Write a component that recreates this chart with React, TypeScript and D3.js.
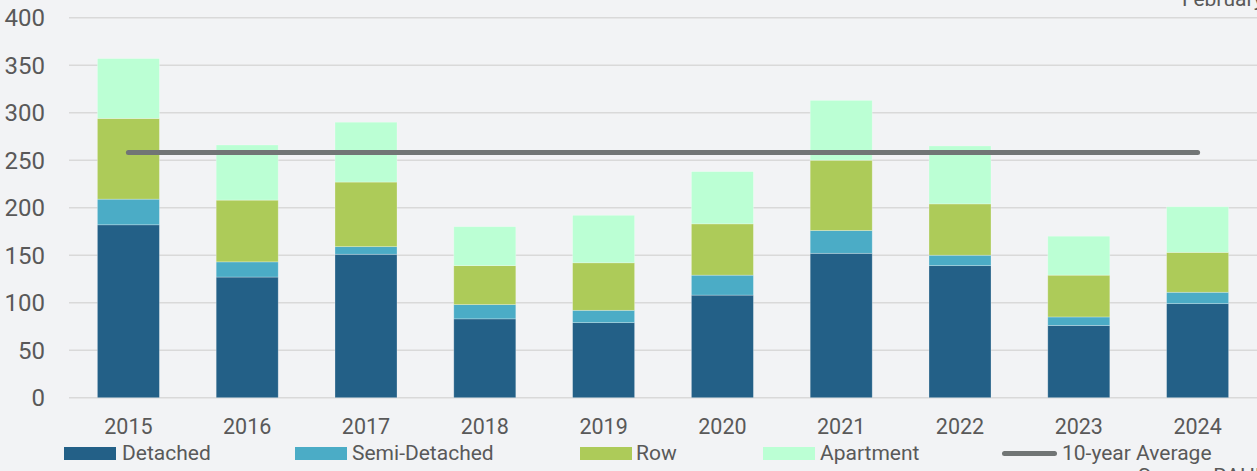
import React from "react";
import * as d3 from "d3";

const years = ["2015", "2016", "2017", "2018", "2019", "2020", "2021", "2022", "2023", "2024"];
const detached = [182, 127, 151, 83, 79, 108, 152, 139, 76, 99];
const semiDetached = [27, 16, 8, 15, 13, 21, 24, 11, 9, 12];
const row = [85, 65, 68, 41, 50, 54, 74, 54, 44, 42];
const apartment = [63, 58, 63, 41, 50, 55, 63, 61, 41, 48];
const tenYearAverage = 258;
const yTicks = [0, 50, 100, 150, 200, 250, 300, 350, 400];

const seriesNames = ["Detached", "Semi-Detached", "Row", "Apartment"];
const seriesColors = ["#236087", "#4bacc6", "#adcb59", "#bbffd4"];
const avgLabel = "10-year Average";
const avgColor = "#717575";

const width = 1257;
const height = 471;
const font = "Roboto, 'Noto Sans', sans-serif";
const textColor = "#595959";

const App = () => {
  const table = years.map((y, i) => ({
    year: y,
    "Detached": detached[i],
    "Semi-Detached": semiDetached[i],
    "Row": row[i],
    "Apartment": apartment[i],
  }));

  const stacked = d3.stack<any>().keys(seriesNames)(table);

  const x = d3
    .scaleBand()
    .domain(years)
    .range([69, 1257])
    .paddingInner(0.478)
    .paddingOuter(0.239);

  const y = d3.scaleLinear().domain([0, 400]).range([397.7, 17.7]);

  const cx = (yr: string) => (x(yr) as number) + x.bandwidth() / 2;

  const avgLine = d3
    .line<string>()
    .x(d => cx(d))
    .y(() => y(tenYearAverage));

  // legend layout
  const swatchX = [64, 295, 580, 763];
  const legendTextX = [122, 352, 636, 820];

  return (
    <svg width={width} height={height} style={{ display: "block", background: "#f2f3f5" }}>
      <style>{`body{margin:0;background:#f2f3f5}`}</style>

      {/* clipped subtitle & source from the original image */}
      <text x={1182} y={6} fontFamily={font} fontSize={21} fill={textColor}>
        February 2024
      </text>
      <text x={1138} y={483} fontFamily={font} fontSize={21} fill={textColor}>
        Source: RAHB
      </text>

      {yTicks.map(t => (
        <g key={t}>
          <line x1={69} x2={1257} y1={y(t)} y2={y(t)} stroke="#d9d9d9" strokeWidth={1.5} />
          <text
            x={45}
            y={y(t) + 8.5}
            textAnchor="end"
            fontFamily={font}
            fontSize={24}
            fill={textColor}
          >
            {t}
          </text>
        </g>
      ))}

      {stacked.map((s, si) => (
        <g key={s.key} fill={seriesColors[si]}>
          {s.map((d, i) => (
            <rect
              key={years[i]}
              x={x(years[i])}
              y={y(d[1])}
              width={x.bandwidth()}
              height={y(d[0]) - y(d[1])}
              stroke="#ffffff"
              strokeOpacity={0.35}
              strokeWidth={0.75}
            />
          ))}
        </g>
      ))}

      <path
        d={avgLine(years) as string}
        fill="none"
        stroke={avgColor}
        strokeWidth={5}
        strokeLinecap="round"
      />

      {years.map(yr => (
        <text
          key={yr}
          x={cx(yr)}
          y={434}
          textAnchor="middle"
          fontFamily={font}
          fontSize={21.5}
          fill={textColor}
        >
          {yr}
        </text>
      ))}

      {seriesNames.map((name, i) => (
        <g key={name}>
          <rect x={swatchX[i]} y={447} width={52} height={13} fill={seriesColors[i]} />
          <text x={legendTextX[i]} y={460} fontFamily={font} fontSize={21} fill={textColor}>
            {name}
          </text>
        </g>
      ))}
      <line
        x1={1004.5}
        x2={1054.5}
        y1={453.5}
        y2={453.5}
        stroke={avgColor}
        strokeWidth={5}
        strokeLinecap="round"
      />
      <text x={1062} y={460} fontFamily={font} fontSize={21} fill={textColor}>
        {avgLabel}
      </text>
    </svg>
  );
};

export default App;
